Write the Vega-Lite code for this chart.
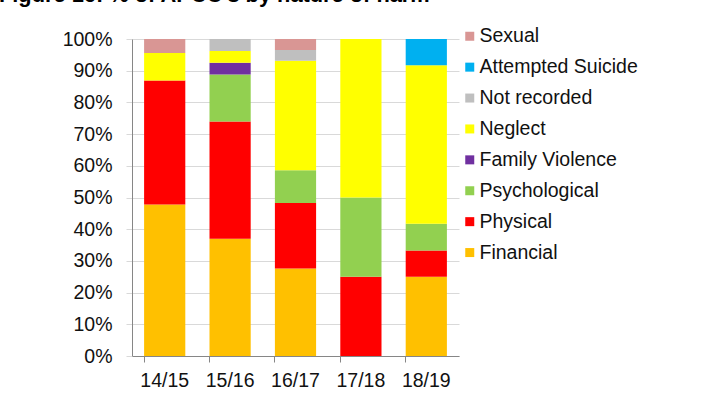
{
  "$schema": "https://vega.github.io/schema/vega-lite/v6.json",
  "autosize": "none",
  "width": 327,
  "height": 317,
  "padding": {"left": 132, "top": 39, "right": 247, "bottom": 57},
  "background": "white",
  "title": {
    "text": "Figure 16:  % of APCC's by nature of harm",
    "font": "Liberation Sans",
    "fontSize": 21.8,
    "fontWeight": "bold",
    "color": "#000000",
    "anchor": "start",
    "frame": "group",
    "baseline": "alphabetic",
    "offset": 0,
    "dx": -133,
    "dy": -3
  },
  "datasets": {
    "harms": [
      {"harm": "Financial", "series": 1},
      {"harm": "Physical", "series": 2},
      {"harm": "Psychological", "series": 3},
      {"harm": "Family Violence", "series": 4},
      {"harm": "Neglect", "series": 5},
      {"harm": "Not recorded", "series": 6},
      {"harm": "Attempted Suicide", "series": 7},
      {"harm": "Sexual", "series": 8}
    ]
  },
  "data": {
    "values": [
      {"year": "14/15", "harm": "Financial", "share": 0.478},
      {"year": "14/15", "harm": "Physical", "share": 0.391},
      {"year": "14/15", "harm": "Neglect", "share": 0.087},
      {"year": "14/15", "harm": "Sexual", "share": 0.044},
      {"year": "15/16", "harm": "Financial", "share": 0.370},
      {"year": "15/16", "harm": "Physical", "share": 0.370},
      {"year": "15/16", "harm": "Psychological", "share": 0.148},
      {"year": "15/16", "harm": "Family Violence", "share": 0.037},
      {"year": "15/16", "harm": "Neglect", "share": 0.037},
      {"year": "15/16", "harm": "Not recorded", "share": 0.038},
      {"year": "16/17", "harm": "Financial", "share": 0.276},
      {"year": "16/17", "harm": "Physical", "share": 0.207},
      {"year": "16/17", "harm": "Psychological", "share": 0.103},
      {"year": "16/17", "harm": "Neglect", "share": 0.345},
      {"year": "16/17", "harm": "Not recorded", "share": 0.034},
      {"year": "16/17", "harm": "Sexual", "share": 0.035},
      {"year": "17/18", "harm": "Physical", "share": 0.25},
      {"year": "17/18", "harm": "Psychological", "share": 0.25},
      {"year": "17/18", "harm": "Neglect", "share": 0.5},
      {"year": "18/19", "harm": "Financial", "share": 0.25},
      {"year": "18/19", "harm": "Physical", "share": 0.083},
      {"year": "18/19", "harm": "Psychological", "share": 0.084},
      {"year": "18/19", "harm": "Neglect", "share": 0.5},
      {"year": "18/19", "harm": "Attempted Suicide", "share": 0.083}
    ]
  },
  "transform": [
    {"lookup": "harm", "from": {"data": {"name": "harms"}, "key": "harm", "fields": ["series"]}}
  ],
  "mark": {"type": "bar"},
  "encoding": {
    "x": {
      "field": "year",
      "type": "nominal",
      "scale": {"paddingInner": 0.37, "paddingOuter": 0.185},
      "axis": {
        "title": null,
        "labelAngle": 0,
        "labelFont": "Liberation Sans",
        "labelFontSize": 19.5,
        "labelColor": "#111111",
        "labelPadding": 9,
        "bandPosition": 0,
        "ticks": true,
        "tickSize": 6,
        "tickColor": "#868686",
        "domainColor": "#868686",
        "grid": false
      }
    },
    "y": {
      "field": "share",
      "type": "quantitative",
      "stack": "zero",
      "scale": {"domain": [0, 1], "nice": false},
      "axis": {
        "title": null,
        "values": [0, 0.1, 0.2, 0.3, 0.4, 0.5, 0.6, 0.7, 0.8, 0.9, 1.0],
        "format": ".0%",
        "labelFont": "Liberation Sans",
        "labelFontSize": 19.5,
        "labelColor": "#111111",
        "labelPadding": 14,
        "tickSize": 6,
        "tickColor": "#D9D9D9",
        "domainColor": "#868686",
        "grid": true,
        "gridColor": "#D9D9D9",
        "gridWidth": 1
      }
    },
    "order": {"field": "series", "type": "quantitative", "sort": "ascending"},
    "color": {
      "field": "harm",
      "type": "nominal",
      "sort": ["Sexual", "Attempted Suicide", "Not recorded", "Neglect", "Family Violence", "Psychological", "Physical", "Financial"],
      "scale": {
        "range": ["#D99694", "#00B0F0", "#BFBFBF", "#FFFF00", "#7030A0", "#92D050", "#FF0000", "#FFC000"]
      },
      "legend": {
        "title": null,
        "symbolType": "square",
        "symbolSize": 81,
        "symbolStrokeWidth": 0,
        "labelFont": "Liberation Sans",
        "labelFontSize": 19.5,
        "labelColor": "#111111",
        "labelOffset": 0,
        "rowPadding": 9.9,
        "padding": 0,
        "orient": "none",
        "legendX": 328,
        "legendY": -12.5
      }
    }
  },
  "config": {
    "view": {"stroke": null}
  }
}
